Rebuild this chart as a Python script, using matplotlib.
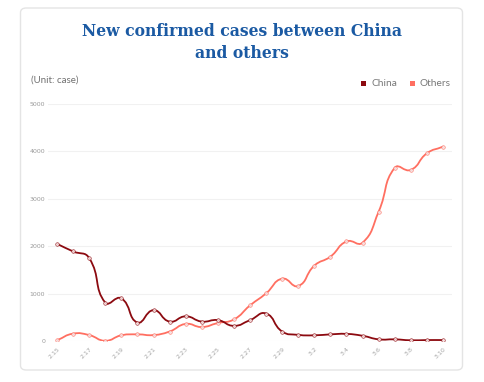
import numpy as np
import matplotlib
matplotlib.use("Agg")
import matplotlib.pyplot as plt
from matplotlib.patches import FancyBboxPatch, Rectangle
from matplotlib.path import Path
from matplotlib.patches import PathPatch

dates = ["2.15", "2.16", "2.17", "2.18", "2.19", "2.20", "2.21", "2.22", "2.23", "2.24",
         "2.25", "2.26", "2.27", "2.28", "2.29", "3.1", "3.2", "3.3", "3.4", "3.5",
         "3.6", "3.7", "3.8", "3.9", "3.10"]
china = [2050, 1890, 1750, 810, 900, 390, 650, 410, 520, 410, 440, 320, 440, 580, 200,
         130, 120, 140, 150, 110, 35, 35, 15, 20, 20]
others = [15, 155, 125, 5, 120, 140, 125, 200, 360, 295, 380, 455, 750, 1005, 1315,
          1160, 1590, 1780, 2100, 2075, 2730, 3655, 3610, 3960, 4100]
yticks = [0, 1000, 2000, 3000, 4000, 5000]

W, H = 484, 382
fig = plt.figure(figsize=(W / 100, H / 100), dpi=100)
fig.patch.set_facecolor("white")

# card
card = FancyBboxPatch((20.5 / W, 1 - 370 / H), 442 / W, 362 / H,
                      boxstyle="round,pad=0,rounding_size=0.012",
                      transform=fig.transFigure, fc="white", ec="#e4e4e4", lw=1.0,
                      zorder=-5)
fig.patches.append(card)

title_kw = dict(ha="center", va="center", fontsize=12.5, fontweight="bold",
                family="DejaVu Serif", fontstretch="condensed", color="#1b5aa3")
fig.text(242 / W, 1 - 31 / H, "New confirmed cases between China", **title_kw)
fig.text(242 / W, 1 - 54 / H, "and others", **title_kw)

fig.text(31 / W, 1 - 80 / H, "(Unit: case)", ha="left", va="center", fontsize=7,
         family="Lato", color="#707070")

# legend
c_china = "#8c0a10"
c_oth = "#ff6f61"
fig.patches.append(Rectangle((360.5 / W, 1 - 86 / H), 5 / W, 5 / H, transform=fig.transFigure,
                             fc=c_china, ec="none"))
fig.text(372 / W, 1 - 83.5 / H, "China", ha="left", va="center", fontsize=7.3,
         family="Lato", color="#777777")
fig.patches.append(Rectangle((409.5 / W, 1 - 86 / H), 5 / W, 5 / H, transform=fig.transFigure,
                             fc=c_oth, ec="none"))
fig.text(419 / W, 1 - 83.5 / H, "Others", ha="left", va="center", fontsize=7.3,
         family="Lato", color="#777777")

# axes: x from 48 to 452 px, y 0 at 341, 5000 at 104
ax_l, ax_r, ax_b, ax_t = 48, 452, 341, 104
ax = fig.add_axes([ax_l / W, 1 - ax_b / H, (ax_r - ax_l) / W, (ax_b - ax_t) / H])
ax.set_facecolor("none")
n = len(dates)
x = np.arange(n)
ax.set_xlim(-0.56, n - 1 + 0.56)
ax.set_ylim(0, 5000)
for s in ax.spines.values():
    s.set_visible(False)
ax.set_yticks(yticks)
ax.set_yticklabels([str(v) for v in yticks], fontsize=4.5, color="#9a9a9a")
ax.tick_params(axis="y", length=0, pad=2)
ax.grid(axis="y", color="#f1f1f1", lw=0.8)
ax.set_axisbelow(True)
ax.set_xticks(x[::2])
ax.set_xticklabels(dates[::2], rotation=45, fontsize=4.5, color="#a5a5a5",
                   ha="right", va="top", rotation_mode="anchor")
ax.tick_params(axis="x", length=0, pad=4)


def smooth_path(xs, ys, smooth=0.5):
    # echarts-like bezier smoothing, computed in display (pixel) space
    pts = ax.transData.transform(np.column_stack([xs, ys]))
    m = len(pts)
    cps = []
    for i in range(m):
        p = pts[i]
        prev = pts[max(i - 1, 0)]
        nxt = pts[min(i + 1, m - 1)]
        v = (nxt - prev) * smooth
        d0 = np.hypot(*(p - prev))
        d1 = np.hypot(*(p - nxt))
        s = d0 + d1
        if s > 0:
            d0, d1 = d0 / s, d1 / s
        cps.append((p - v * d0, p + v * d1))
    verts = [tuple(pts[0])]
    codes = [Path.MOVETO]
    for i in range(m - 1):
        verts += [tuple(cps[i][1]), tuple(cps[i + 1][0]), tuple(pts[i + 1])]
        codes += [Path.CURVE4] * 3
    return Path(verts, codes)


for ys, col in [(others, c_oth), (china, c_china)]:
    ax.add_patch(PathPatch(smooth_path(x, ys), fc="none", ec=col, lw=1.3, zorder=3,
                           transform=None))
    ax.plot(x, ys, ls="none", marker="o", ms=2.6, mfc="#f6dede", mec=col, mew=0.4,
            alpha=0.9, zorder=4)

fig.savefig("out.png", dpi=100)
